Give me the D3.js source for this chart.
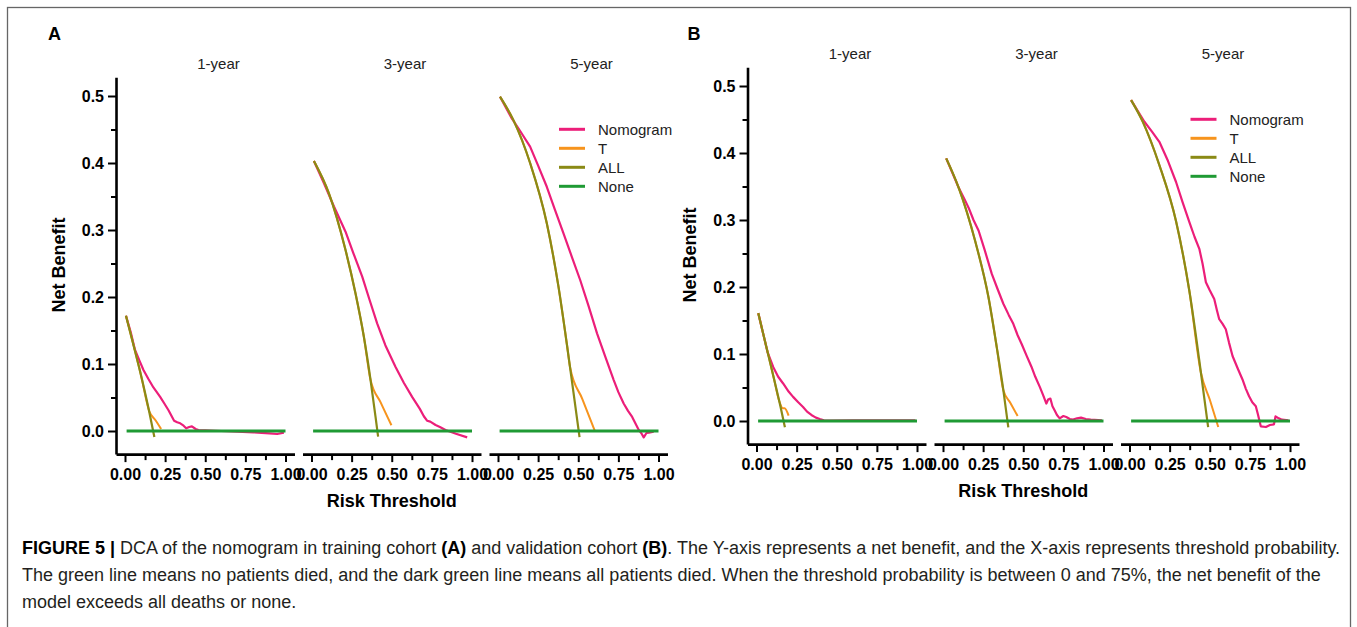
<!DOCTYPE html>
<html>
<head>
<meta charset="utf-8">
<script src="https://cdn.jsdelivr.net/npm/d3@7"></script>
<style>
body { margin: 0; background: #fff; }
text { font-family: "Liberation Sans", Arial, sans-serif; }
</style>
</head>
<body>
<svg id="fig" width="1357" height="627"></svg>
<script>
const cohorts = ['A', 'B']
const horizons = ['1-year', '3-year', '5-year']
const seriesNames = ['Nomogram', 'T', 'ALL', 'None']
const seriesColors = ['#ec1e79', '#f7941d', '#8a8a16', '#1f9a34']

const xMajorTicks = [0, 0.25, 0.5, 0.75, 1]
const xMinorTicks = [0.125, 0.375, 0.625, 0.875]
const yMajorTicks = [0, 0.1, 0.2, 0.3, 0.4, 0.5]
const yMinorTicks = [0.05, 0.15, 0.25, 0.35, 0.45]

// [threshold, net benefit]
// training cohort (A)
const nomA1 = [[0.006,0.172],[0.035,0.148],[0.0625,0.121],[0.09,0.105],[0.115,0.091],[0.145,0.078],[0.177,0.065],[0.219,0.051],[0.245,0.041],[0.271,0.031],[0.306,0.0154],[0.325,0.013],[0.344,0.0115],[0.365,0.008],[0.381,0.004],[0.40,0.006],[0.417,0.007],[0.44,0.003],[0.458,0.0015],[0.5,0.001],[0.6,0.0],[0.7,-0.001],[0.8,-0.002],[0.9,-0.0035],[0.948,-0.0045],[0.99,-0.0025]]
const tA1 = [[0.006,0.172],[0.05,0.131],[0.10,0.083],[0.152,0.029],[0.19,0.016],[0.225,0.003]]
const allA1 = [[0.006,0.172],[0.05,0.131],[0.10,0.083],[0.15,0.030],[0.183,-0.009]]

const nomA3 = [[0.015,0.403],[0.077,0.37],[0.14,0.335],[0.212,0.2975],[0.26,0.266],[0.316,0.2303],[0.36,0.197],[0.409,0.1607],[0.46,0.128],[0.523,0.096],[0.575,0.072],[0.627,0.051],[0.675,0.033],[0.70,0.022],[0.720,0.0154],[0.74,0.014],[0.773,0.009],[0.80,0.006],[0.835,0.0015],[0.90,-0.004],[0.97,-0.0095]]
const tA3 = [[0.015,0.403],[0.108,0.355],[0.212,0.270],[0.274,0.2055],[0.326,0.141],[0.368,0.076],[0.43,0.043],[0.498,0.0085]]
const allA3 = [[0.015,0.403],[0.108,0.355],[0.212,0.270],[0.274,0.2055],[0.326,0.141],[0.368,0.076],[0.399,0.021],[0.415,-0.0085]]

const nomA5 = [[0.0125,0.499],[0.085,0.467],[0.14,0.447],[0.2,0.4245],[0.25,0.396],[0.304,0.3645],[0.355,0.330],[0.408,0.295],[0.46,0.260],[0.5125,0.225],[0.565,0.186],[0.617,0.1458],[0.67,0.110],[0.721,0.076],[0.75,0.058],[0.783,0.041],[0.81,0.030],[0.836,0.021],[0.855,0.012],[0.877,0.0015],[0.895,-0.004],[0.908,-0.0095],[0.925,-0.003],[0.94,-0.0025],[0.97,-0.001]]
const tA5 = [[0.0125,0.499],[0.096,0.464],[0.2,0.4],[0.304,0.31],[0.377,0.215],[0.43,0.128],[0.45,0.094],[0.525,0.048],[0.602,0.001]]
const allA5 = [[0.0125,0.499],[0.096,0.464],[0.2,0.4],[0.304,0.31],[0.377,0.215],[0.43,0.128],[0.47,0.058],[0.508,-0.009]]

// validation cohort (B)
const nomB1 = [[0.011,0.161],[0.042,0.130],[0.07,0.102],[0.104,0.0807],[0.135,0.066],[0.166,0.056],[0.20,0.044],[0.228,0.036],[0.26,0.028],[0.29,0.021],[0.315,0.014],[0.342,0.009],[0.37,0.005],[0.394,0.003],[0.42,0.001],[0.456,0.0005],[0.6,0.0008],[0.8,0.001],[0.99,0.001]]
const tB1 = [[0.011,0.161],[0.06,0.112],[0.11,0.062],[0.14,0.031],[0.165,0.019],[0.175,0.019],[0.20,0.008]]
const allB1 = [[0.011,0.161],[0.06,0.112],[0.11,0.062],[0.15,0.021],[0.177,-0.0094]]

const nomB3 = [[0.02,0.392],[0.098,0.348],[0.13,0.333],[0.16,0.318],[0.19,0.300],[0.222,0.284],[0.26,0.255],[0.304,0.2195],[0.34,0.197],[0.376,0.175],[0.41,0.158],[0.438,0.145],[0.465,0.128],[0.49,0.115],[0.52,0.098],[0.551,0.081],[0.575,0.066],[0.603,0.051],[0.625,0.038],[0.644,0.026],[0.655,0.032],[0.669,0.0335],[0.682,0.022],[0.696,0.0156],[0.71,0.009],[0.727,0.004],[0.75,0.0074],[0.768,0.006],[0.79,0.003],[0.81,0.0022],[0.835,0.004],[0.86,0.005],[0.89,0.003],[0.92,0.002],[0.99,0.001]]
const tB3 = [[0.02,0.392],[0.098,0.348],[0.2,0.269],[0.283,0.185],[0.335,0.110],[0.376,0.046],[0.42,0.027],[0.465,0.0074]]
const allB3 = [[0.02,0.392],[0.098,0.348],[0.2,0.269],[0.283,0.185],[0.335,0.110],[0.376,0.046],[0.407,-0.0094]]

const nomB5 = [[0.01,0.479],[0.093,0.4467],[0.14,0.432],[0.186,0.4167],[0.24,0.388],[0.29,0.3567],[0.33,0.327],[0.373,0.2967],[0.405,0.275],[0.435,0.257],[0.455,0.235],[0.476,0.207],[0.50,0.195],[0.528,0.182],[0.545,0.165],[0.559,0.152],[0.58,0.145],[0.60,0.137],[0.62,0.117],[0.642,0.097],[0.675,0.078],[0.704,0.062],[0.725,0.048],[0.745,0.037],[0.765,0.028],[0.787,0.022],[0.80,0.01],[0.818,-0.008],[0.85,-0.009],[0.875,-0.006],[0.9,-0.005],[0.91,0.007],[0.93,0.004],[0.95,0.002],[0.99,0.001]]
const tB5 = [[0.01,0.479],[0.083,0.4465],[0.186,0.382],[0.29,0.298],[0.373,0.194],[0.445,0.072],[0.50,0.032],[0.553,-0.009]]
const allB5 = [[0.01,0.479],[0.083,0.4465],[0.186,0.382],[0.29,0.298],[0.373,0.194],[0.435,0.090],[0.466,0.034],[0.49,-0.009]]

const noneLine = [[0.01,0],[1.0,0]]

const curves = {
    A: [[nomA1, tA1, allA1], [nomA3, tA3, allA3], [nomA5, tA5, allA5]],
    B: [[nomB1, tB1, allB1], [nomB3, tB3, allB3], [nomB5, tB5, allB5]]
}

const captionLines = [
    [['FIGURE 5 | ', true], ['DCA of the nomogram in training cohort ', false], ['(A)', true], [' and validation cohort ', false], ['(B)', true], ['. The Y-axis represents a net benefit, and the X-axis represents threshold probability.', false]],
    [['The green line means no patients died, and the dark green line means all patients died. When the threshold probability is between 0 and 75%, the net benefit of the', false]],
    [['model exceeds all deaths or none.', false]]
]

// layout
const layout = {
    A: {x0: 125, y0: 431, letterX: 48},
    B: {x0: 756.5, y0: 421, letterX: 687.5}
}
const panelStep = 186.5, panelW = 160.5, yUnit = 670
const xPad = 0.056, yLo = -0.0345, yHi = 0.528

const svg = d3.select('#fig')

svg.append('rect')
    .attr('x', 7.5).attr('y', 7.5)
    .attr('width', 1343).attr('height', 700)
    .attr('fill', 'none')
    .attr('stroke', '#666')
    .attr('stroke-width', 1.3)

const styleAxis = g => {
    g.select('.domain').attr('stroke', '#000').attr('stroke-width', 2.6)
    g.selectAll('.tick line').attr('stroke', '#000').attr('stroke-width', 2)
    g.selectAll('.tick text')
        .attr('fill', '#000')
        .style('font-size', '16px')
        .style('font-weight', 'bold')
        .style('font-family', '"Liberation Sans", Arial, sans-serif')
}

const drawCohort = c => {
    let L = layout[c]
    let g = svg.append('g')

    let y = d3.scaleLinear()
        .domain([yLo, yHi])
        .range([L.y0 - yLo * yUnit, L.y0 - yHi * yUnit])

    let yAxisX = L.x0 - xPad * panelW

    // y axis
    g.append('g')
        .attr('transform', `translate(${yAxisX},0)`)
        .call(d3.axisLeft(y).tickValues(yMinorTicks).tickSize(5).tickSizeOuter(0).tickFormat(''))
        .call(styleAxis)
        .select('.domain').remove()
    g.append('g')
        .attr('transform', `translate(${yAxisX},0)`)
        .call(d3.axisLeft(y).tickValues(yMajorTicks).tickSize(8).tickPadding(4).tickSizeOuter(0).tickFormat(d3.format('.1f')))
        .call(styleAxis)

    horizons.forEach((h, i) => {
        let px = L.x0 + i * panelStep
        let x = d3.scaleLinear()
            .domain([-xPad, 1 + xPad])
            .range([px - xPad * panelW, px + (1 + xPad) * panelW])
        let axisY = y(yLo)

        g.append('g')
            .attr('transform', `translate(0,${axisY})`)
            .call(d3.axisBottom(x).tickValues(xMinorTicks).tickSize(6).tickSizeOuter(0).tickFormat(''))
            .call(styleAxis)
            .select('.domain').remove()
        g.append('g')
            .attr('transform', `translate(0,${axisY})`)
            .call(d3.axisBottom(x).tickValues(xMajorTicks).tickSize(8).tickPadding(7).tickSizeOuter(0).tickFormat(d3.format('.2f')))
            .call(styleAxis)

        g.append('text')
            .attr('x', px + 93.5)
            .attr('y', L.y0 - 362)
            .attr('text-anchor', 'middle')
            .style('font-size', '15px')
            .attr('fill', '#222')
            .text(h)

        let line = d3.line().x(d => x(d[0])).y(d => y(d[1]))
        let smooth = d3.line().x(d => x(d[0])).y(d => y(d[1])).curve(d3.curveMonotoneX)

        let [nom, t, all] = curves[c][i]
        g.append('path').datum(nom).attr('d', line)
            .attr('fill', 'none').attr('stroke', seriesColors[0]).attr('stroke-width', 2.2).attr('stroke-linejoin', 'round')
        g.append('path').datum(t).attr('d', smooth)
            .attr('fill', 'none').attr('stroke', seriesColors[1]).attr('stroke-width', 2)
        g.append('path').datum(all).attr('d', smooth)
            .attr('fill', 'none').attr('stroke', seriesColors[2]).attr('stroke-width', 2.2)
        g.append('path').datum(noneLine).attr('d', line)
            .attr('fill', 'none').attr('stroke', seriesColors[3]).attr('stroke-width', 3)

        if (i === 2) {
            let lg = g.append('g')
            seriesNames.forEach((s, k) => {
                let ly = L.y0 - 301.7 + k * 19
                lg.append('line')
                    .attr('x1', px + 61).attr('x2', px + 87)
                    .attr('y1', ly).attr('y2', ly)
                    .attr('stroke', seriesColors[k])
                    .attr('stroke-width', 3)
                lg.append('text')
                    .attr('x', px + 100).attr('y', ly)
                    .attr('dy', '0.35em')
                    .style('font-size', '15px')
                    .attr('fill', '#222')
                    .text(s)
            })
        }
    })

    let axisEnd = L.x0 + 2 * panelStep + (1 + xPad) * panelW

    g.append('text')
        .attr('x', (yAxisX + axisEnd) / 2)
        .attr('y', L.y0 + 76)
        .attr('text-anchor', 'middle')
        .style('font-size', '18px')
        .style('font-weight', 'bold')
        .text('Risk Threshold')

    g.append('text')
        .attr('transform', `translate(${yAxisX - 57.5},${L.y0 - 166}) rotate(-90)`)
        .attr('text-anchor', 'middle')
        .attr('dy', '0.35em')
        .style('font-size', '18px')
        .style('font-weight', 'bold')
        .text('Net Benefit')

    g.append('text')
        .attr('x', L.letterX).attr('y', 40)
        .style('font-size', '18px')
        .style('font-weight', 'bold')
        .text(c)
}

cohorts.forEach(drawCohort)

captionLines.forEach((parts, i) => {
    let t = svg.append('text')
        .attr('x', 22)
        .attr('y', 554 + i * 27)
        .style('font-size', '18px')
        .attr('fill', '#231f20')
    parts.forEach(p => {
        t.append('tspan')
            .style('font-weight', p[1] ? 'bold' : 'normal')
            .attr('fill', p[1] ? '#000' : '#231f20')
            .text(p[0])
    })
})
</script>
</body>
</html>
